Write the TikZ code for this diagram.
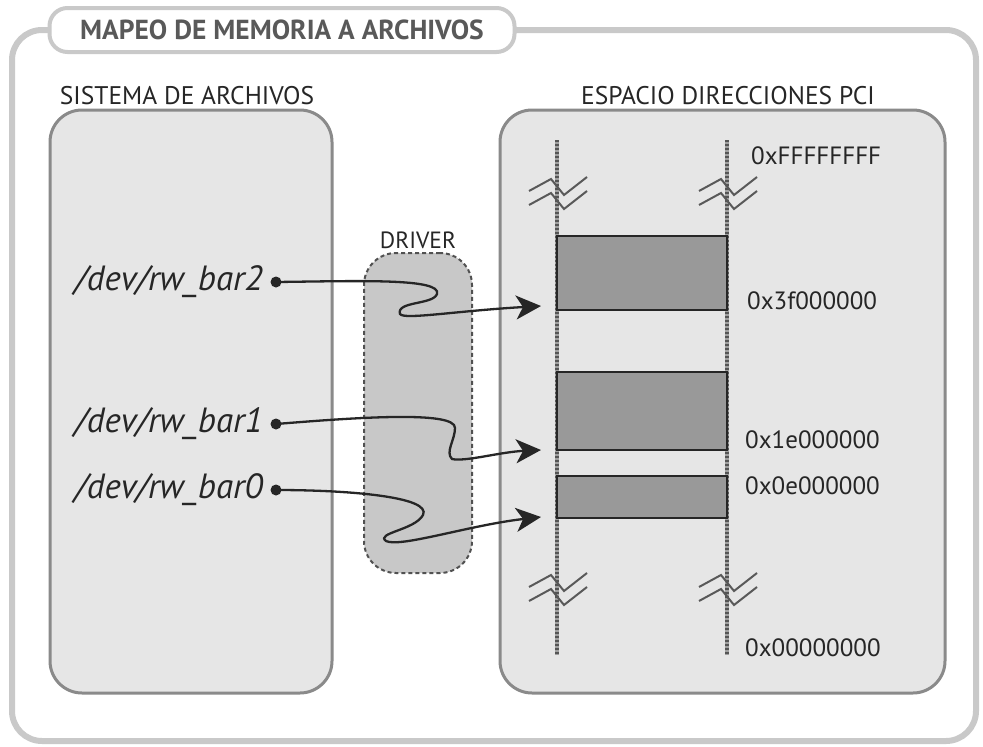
\documentclass[tikz,border=0pt]{standalone}
\usepackage{fontspec}
\setmainfont{PT Sans}
\usetikzlibrary{arrows.meta}
\definecolor{framegray}{HTML}{C9C9C9}
\definecolor{panelfill}{HTML}{E6E6E6}
\definecolor{paneldraw}{HTML}{8A8A8A}
\definecolor{driverfill}{HTML}{C8C8C8}
\definecolor{blockfill}{HTML}{999999}
\definecolor{inkgray}{HTML}{262626}
\definecolor{titlegray}{HTML}{595959}
\definecolor{dotline}{HTML}{555555}
\definecolor{dotbase}{HTML}{A0A0A0}
\tikzset{
  panel/.style={draw=paneldraw, fill=panelfill, line width=3pt, rounded corners=32pt, inner sep=0pt},
  driverbox/.style={draw=inkgray!80, fill=driverfill, line width=2pt, dash pattern=on 4pt off 3pt, rounded corners=32pt, inner sep=0pt},
  block/.style={draw=inkgray, fill=blockfill, line width=2pt, minimum width=170pt, inner sep=0pt},
  devlabel/.style={font=\fontsize{35}{40}\selectfont\itshape, text=inkgray, inner sep=0pt},
  addr/.style={font=\fontsize{25}{29}\selectfont, text=inkgray, anchor=west, inner sep=0pt},
  heading/.style={font=\fontsize{25.5}{30}\selectfont, text=inkgray, inner sep=0pt},
  dotnode/.style={circle, fill=inkgray, inner sep=0pt, minimum size=11pt},
  conn/.style={draw=inkgray, line width=2.3pt, -{Stealth[length=25pt,width=24pt,inset=7pt]}},
  axis base/.style={draw=dotbase, line width=4.5pt},
  dotted axis/.style={draw=dotline, line width=4.5pt, dash pattern=on 2pt off 2pt},
  zig/.style={draw=titlegray, line width=2pt, line join=miter}
}
\begin{document}
\begin{tikzpicture}[x=1pt,y=-1pt]
\useasboundingbox (0,0) rectangle (983,747);
\fill[white] (0,0) rectangle (983,747);
% outer frame
\draw[framegray, line width=6pt, rounded corners=30pt] (12,30) rectangle (976,741);
\node[draw=framegray, fill=white, line width=4pt, rounded corners=18pt, minimum width=465pt, minimum height=44pt, inner sep=0pt,
  font=\fontsize{27.5}{32}\selectfont\bfseries, text=titlegray] (title) at (282,30) {MAPEO DE MEMORIA A ARCHIVOS};
% headings
\node[heading] (hfs) at (187,96) {SISTEMA DE ARCHIVOS};
\node[heading] (hpci) at (728,96) {ESPACIO DIRECCIONES PCI};
% panels
\node[panel, minimum width=282pt, minimum height=583pt] (fs) at (191,401.5) {};
\node[panel, minimum width=445pt, minimum height=583pt] (pci) at (722.5,401.5) {};
% driver
\node[driverbox, minimum width=108pt, minimum height=320pt] (drv) at (418,413) {};
\node[heading, font=\fontsize{23.5}{28}\selectfont] (drvlabel) at (418,240) {DRIVER};
% address axes
\foreach \x in {557,727}{
  \draw[axis base] (\x,140) -- (\x,655);
  \draw[dotted axis] (\x,140) -- (\x,655);
}
\foreach \x/\y in {557/191, 727/191, 557/587, 727/587}{
  \draw[zig] (\x-28,\y) -- ++(22,-12) -- ++(13,16) -- ++(23,-18);
  \draw[zig] (\x-28,\y+14) -- ++(22,-12) -- ++(13,16) -- ++(23,-18);
}
% memory blocks
\node[block, minimum height=74pt] (b2) at (642,273) {};
\node[block, minimum height=78pt] (b1) at (642,411) {};
\node[block, minimum height=42pt] (b0) at (642,497) {};
% addresses
\node[addr] (aF) at (751,156) {0xFFFFFFFF};
\node[addr] (a3) at (747,301) {0x3f000000};
\node[addr] (a1) at (745,440) {0x1e000000};
\node[addr] (a0) at (745,486) {0x0e000000};
\node[addr] (aZ) at (745,648) {0x00000000};
% device files
\node[devlabel, anchor=east] (l2) at (263,282) {/dev/rw\_bar2};
\node[devlabel, anchor=east] (l1) at (263,424) {/dev/rw\_bar1};
\node[devlabel, anchor=east] (l0) at (263,490) {/dev/rw\_bar0};
\node[dotnode] (d2) at (276,282) {};
\node[dotnode] (d1) at (276,424) {};
\node[dotnode] (d0) at (276,490) {};
\coordinate (t2) at (541,306);
\coordinate (t1) at (541,450);
\coordinate (t0) at (541,517);
% connectors
\draw[conn] (d2.center) .. controls (360,281) and (442,278) .. (437,294)
  .. controls (433,305) and (396,301) .. (400,314)
  .. controls (404,320) and (455,311) .. (t2);
\draw[conn] (d1.center) .. controls (350,418) and (456,410) .. (455,428)
  .. controls (455,440) and (445,452) .. (452,459)
  .. controls (465,462) and (500,452) .. (t1);
\draw[conn] (d0.center) .. controls (350,490) and (432,497) .. (423,515)
  .. controls (415,530) and (375,533) .. (386,541)
  .. controls (400,548) and (470,525) .. (t0);
\end{tikzpicture}
\end{document}
